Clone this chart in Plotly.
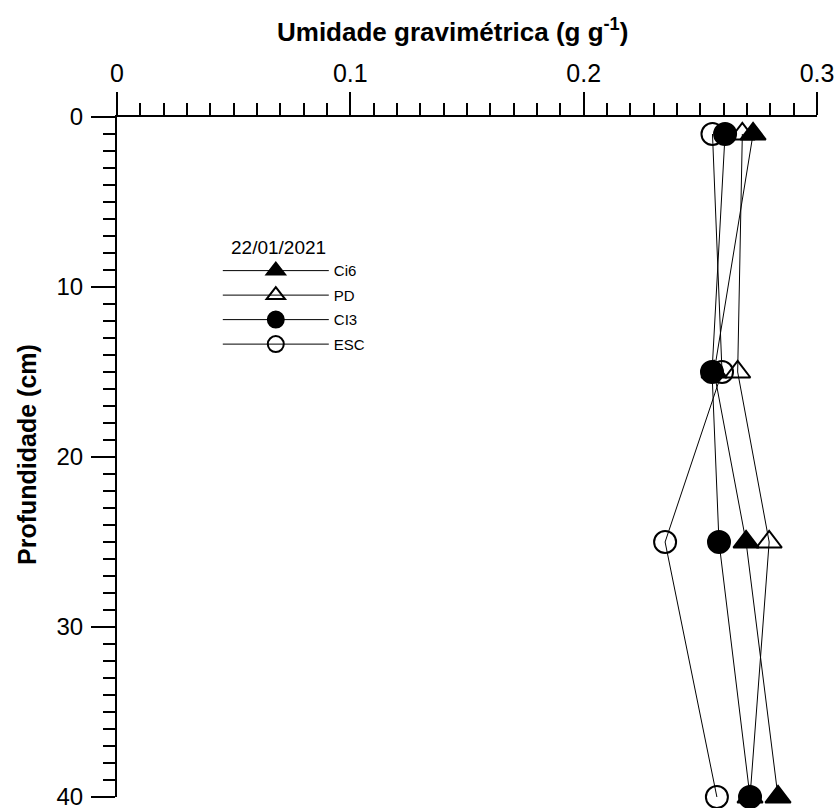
import plotly.graph_objects as go

depths = [1, 15, 25, 40]
ci6 = [0.2726, 0.2559, 0.2696, 0.2833]
pd_ = [0.2680, 0.2660, 0.2795, 0.2713]
ci3 = [0.2606, 0.2550, 0.2580, 0.2713]
esc = [0.2552, 0.2593, 0.2349, 0.2571]

x_title = "<b>Umidade gravimétrica (g g<sup>-1</sup>)</b>"
y_title = "<b>Profundidade (cm)</b>"
legend_title = "22/01/2021"

series = [
    ("ESC", esc, "circle-open", 4),
    ("PD", pd_, "triangle-up-open", 2),
    ("Ci6", ci6, "triangle-up", 1),
    ("CI3", ci3, "circle", 3),
]

FONT = "Liberation Sans, Arial, sans-serif"
fig = go.Figure()
for name, vals, sym, rank in series:
    fig.add_trace(go.Scatter(
        x=vals, y=depths, mode="lines+markers", name=name, legendrank=rank,
        legendgroup=name,
        line=dict(color="black", width=1),
        marker=dict(symbol=sym, size=22, color="black",
                    line=dict(color="black", width=2)),
        cliponaxis=False,
    ))

fig.update_layout(
    width=834, height=808,
    margin=dict(l=117, r=17, t=117, b=11),
    paper_bgcolor="white", plot_bgcolor="white",
    font=dict(family=FONT, color="black", size=19),
    showlegend=True,
    legend=dict(
        x=0.144, y=0.798, xanchor="left", yanchor="top",
        bgcolor="rgba(0,0,0,0)",
        font=dict(size=15), itemwidth=106, tracegroupgap=2,
    ),
    annotations=[
        dict(text=x_title, xref="paper", yref="paper", x=0.479, y=1.0, yshift=87,
             xanchor="center", yanchor="middle", showarrow=False, font=dict(size=26)),
        dict(text=y_title, xref="paper", yref="paper", x=0, xshift=-90, y=0.503,
             xanchor="center", yanchor="middle", textangle=-90, showarrow=False,
             font=dict(size=25)),
        dict(text=legend_title, xref="paper", yref="paper", x=(278 - 117) / 700,
             y=1.0, yshift=-130, xanchor="center", yanchor="middle",
             showarrow=False, font=dict(size=19)),
    ],
)
fig.update_xaxes(
    side="top", range=[0, 0.3], tickvals=[0, 0.1, 0.2, 0.3],
    ticktext=["0", "0.1", "0.2", "0.3"], tickfont=dict(size=25),
    automargin=False, ticklabeloverflow="allow",
    showgrid=False, zeroline=False, showline=True, linecolor="black", linewidth=2,
    ticks="outside", ticklen=23, tickwidth=2, tickcolor="black",
    minor=dict(dtick=0.01, ticks="outside", ticklen=12, tickwidth=2, tickcolor="black", showgrid=False),
)
fig.update_yaxes(
    range=[40, 0], tickvals=[0, 10, 20, 30, 40], tickfont=dict(size=24),
    automargin=False, ticklabeloverflow="allow", ticklabelstandoff=3,
    showgrid=False, zeroline=False, showline=True, linecolor="black", linewidth=2,
    ticks="outside", ticklen=24, tickwidth=2, tickcolor="black",
    minor=dict(dtick=1, ticks="outside", ticklen=12, tickwidth=2, tickcolor="black", showgrid=False),
)
fig.write_html("out.html")
